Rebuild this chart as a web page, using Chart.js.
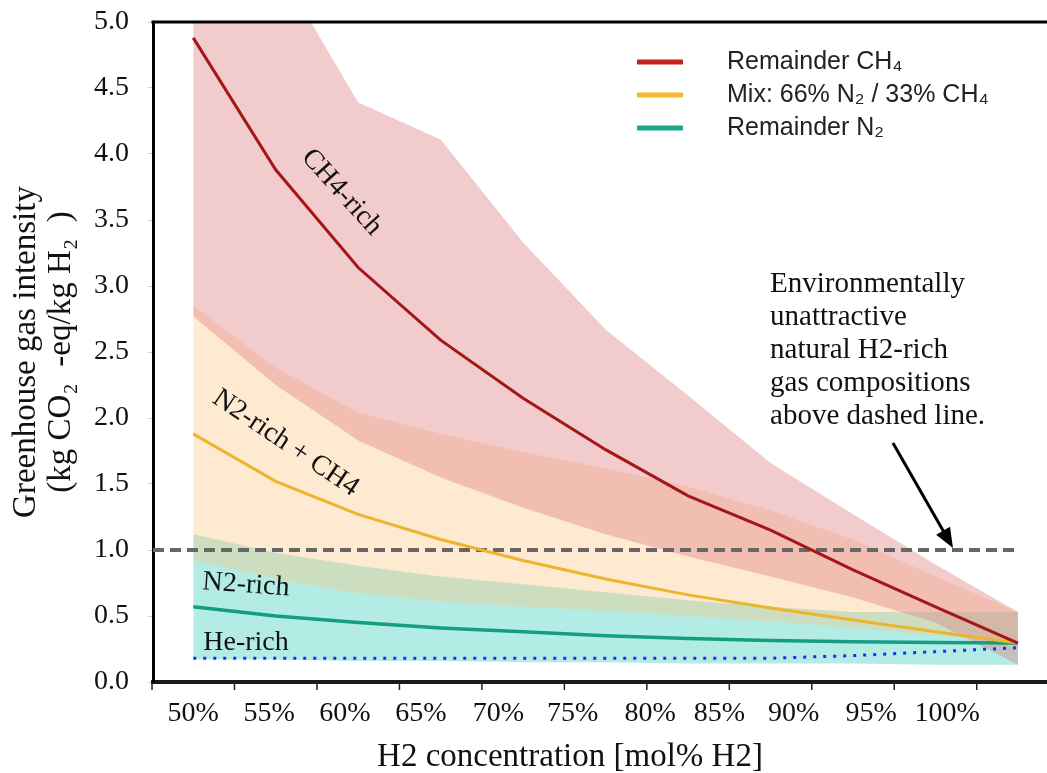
<!DOCTYPE html>
<html>
<head>
<meta charset="utf-8">
<script src="https://cdn.jsdelivr.net/npm/chart.js@4.4.1/dist/chart.umd.min.js"></script>
<style>
  html, body { margin: 0; padding: 0; background: #fff; }
</style>
</head>
<body>
<canvas id="chart" width="1047" height="773"></canvas>
<script>
// H2 concentration (mol%) of the modelled points
const h2Conc = [50, 55, 60, 65, 70, 75, 80, 85, 90, 95, 100];

// central curves, kg CO2-eq / kg H2
const remainderCH4 = [4.88, 3.88, 3.14, 2.59, 2.15, 1.76, 1.41, 1.15, 0.85, 0.57, 0.295];
const mixN2CH4 = [1.88, 1.52, 1.27, 1.08, 0.92, 0.78, 0.66, 0.56, 0.47, 0.38, 0.295];
const remainderN2 = [0.57, 0.50, 0.45, 0.41, 0.38, 0.35, 0.33, 0.315, 0.305, 0.30, 0.295];
const heRich = [0.18, 0.18, 0.18, 0.18, 0.18, 0.18, 0.18, 0.18, 0.20, 0.23, 0.26];

// shaded ranges
const ch4RichHigh = [6.3, 5.45, 4.39, 4.11, 3.33, 2.67, 2.17, 1.66, 1.27, 0.89, 0.53];
const ch4RichLow = [2.77, 2.25, 1.83, 1.55, 1.32, 1.12, 0.95, 0.80, 0.64, 0.45, 0.13];
const n2Ch4High = [2.85, 2.38, 2.04, 1.88, 1.74, 1.62, 1.48, 1.30, 1.08, 0.80, 0.53];
const n2Ch4Low = [0.92, 0.78, 0.67, 0.61, 0.57, 0.54, 0.50, 0.46, 0.41, 0.35, 0.30];
const n2RichHigh = [1.12, 0.98, 0.88, 0.80, 0.74, 0.68, 0.62, 0.57, 0.53, 0.53, 0.53];
const n2RichLow = [0.17, 0.17, 0.16, 0.16, 0.15, 0.15, 0.14, 0.14, 0.14, 0.13, 0.13];

// dashed limit
const threshold = 1.0;
const thresholdSpan = [47.56, 99.76];

// x axis: label texts, where they sit, and the small tick marks
const xTickLabels = ['50%', '55%', '60%', '65%', '70%', '75%', '80%', '85%', '90%', '95%', '100%'];
const xLabelAt = [50, 54.6, 59.2, 63.8, 68.5, 73.0, 77.7, 81.9, 86.4, 91.1, 95.7];
const xTickMarks = [47.5, 52.5, 57.5, 62.5, 67.5, 72.5, 77.5, 82.5, 87.5, 92.5, 97.5];

const SERIF = '"Liberation Serif", "Times New Roman", serif';
const SANS = '"Liberation Sans", Arial, sans-serif';

const pts = vals => h2Conc.map((x, i) => ({ x, y: vals[i] }));

function band(values, fill, color) {
    return {
        data: pts(values),
        borderWidth: 0,
        pointRadius: 0,
        fill: fill,
        backgroundColor: color,
        tension: 0,
        order: 2
    };
}

function curve(label, values, color, width, legendColor) {
    return {
        label,
        data: pts(values),
        borderColor: color,
        borderWidth: width,
        pointRadius: 0,
        fill: false,
        tension: 0,
        order: 1,
        legendColor
    };
}

const datasets = [
    curve('Remainder CH₄', remainderCH4, '#A3161A', 3, '#C4261F'),
    curve('Mix: 66% N₂ / 33% CH₄', mixN2CH4, '#EDB52F', 3, '#F4B731'),
    curve('Remainder N₂', remainderN2, '#139E84', 3.5, '#1AA88B'),
    {
        label: 'He-rich',
        data: pts(heRich),
        borderColor: '#1A2CFF',
        borderWidth: 3,
        borderDash: [3, 7],
        pointRadius: 0,
        fill: false,
        order: 1
    },
    {
        label: 'limit',
        data: thresholdSpan.map(x => ({ x, y: threshold })),
        borderColor: '#666666',
        borderWidth: 4,
        borderDash: [11, 6],
        pointRadius: 0,
        fill: false,
        order: 1
    },
    band(ch4RichHigh, '+1', 'rgba(223,125,130,0.40)'),
    band(ch4RichLow, false, 'transparent'),
    band(n2Ch4High, '+1', 'rgba(249,200,135,0.38)'),
    band(n2Ch4Low, false, 'transparent'),
    band(n2RichHigh, '+1', 'rgba(84,213,195,0.45)'),
    band(n2RichLow, false, 'transparent')
];

function rotatedText(ctx, text, px, py, deg) {
    ctx.save();
    ctx.translate(px, py);
    ctx.rotate(deg * Math.PI / 180);
    ctx.textAlign = 'center';
    ctx.textBaseline = 'middle';
    ctx.fillText(text, 0, 0);
    ctx.restore();
}

const decorations = {
    id: 'decorations',
    afterDraw(chart) {
        const { ctx, chartArea: a, scales: { x, y } } = chart;
        ctx.save();

        // top frame
        ctx.strokeStyle = '#000';
        ctx.lineWidth = 3;
        ctx.beginPath();
        ctx.moveTo(a.left - 1.5, a.top);
        ctx.lineTo(a.right, a.top);
        ctx.stroke();

        // tick marks under the x axis
        ctx.strokeStyle = '#222';
        ctx.lineWidth = 1.5;
        xTickMarks.forEach(v => {
            const p = x.getPixelForValue(v);
            ctx.beginPath();
            ctx.moveTo(p, a.bottom + 2);
            ctx.lineTo(p, a.bottom + 8);
            ctx.stroke();
        });

        // region labels
        ctx.fillStyle = '#111';
        ctx.font = '28px ' + SERIF;
        rotatedText(ctx, 'CH4-rich', x.getPixelForValue(59.0), y.getPixelForValue(3.71), 48);
        rotatedText(ctx, 'N2-rich + CH4', x.getPixelForValue(55.6), y.getPixelForValue(1.81), 34);
        rotatedText(ctx, 'N2-rich', x.getPixelForValue(53.2), y.getPixelForValue(0.735), 4);
        rotatedText(ctx, 'He-rich', x.getPixelForValue(53.2), y.getPixelForValue(0.295), 0);

        // note + arrow
        const note = ['Environmentally', 'unattractive', 'natural H2-rich', 'gas compositions', 'above dashed line.'];
        ctx.font = '29px ' + SERIF;
        ctx.textAlign = 'left';
        ctx.textBaseline = 'alphabetic';
        const nx = x.getPixelForValue(84.97);
        const ny = y.getPixelForValue(2.955);
        note.forEach((t, i) => ctx.fillText(t, nx, ny + i * 33));

        const x0 = x.getPixelForValue(92.42), y0 = y.getPixelForValue(1.81);
        const x1 = x.getPixelForValue(96.06), y1 = y.getPixelForValue(1.015);
        const ang = Math.atan2(y1 - y0, x1 - x0);
        ctx.strokeStyle = '#000';
        ctx.lineWidth = 3;
        ctx.beginPath();
        ctx.moveTo(x0, y0);
        ctx.lineTo(x1 - 14 * Math.cos(ang), y1 - 14 * Math.sin(ang));
        ctx.stroke();
        ctx.fillStyle = '#000';
        ctx.beginPath();
        ctx.moveTo(x1, y1);
        ctx.lineTo(x1 - 20 * Math.cos(ang) + 8 * Math.sin(ang), y1 - 20 * Math.sin(ang) - 8 * Math.cos(ang));
        ctx.lineTo(x1 - 20 * Math.cos(ang) - 8 * Math.sin(ang), y1 - 20 * Math.sin(ang) + 8 * Math.cos(ang));
        ctx.closePath();
        ctx.fill();

        // x axis title
        ctx.fillStyle = '#111';
        ctx.font = '33px ' + SERIF;
        ctx.textAlign = 'center';
        ctx.textBaseline = 'middle';
        ctx.fillText('H2 concentration [mol% H2]', 570, 757);

        // legend
        ctx.font = '25px ' + SANS;
        ctx.textAlign = 'left';
        let row = 0;
        chart.data.datasets.forEach(ds => {
            if (!ds.legendColor) return;
            const ly = 62 + row * 33;
            ctx.strokeStyle = ds.legendColor;
            ctx.lineWidth = 5;
            ctx.beginPath();
            ctx.moveTo(637, ly);
            ctx.lineTo(683, ly);
            ctx.stroke();
            ctx.fillStyle = '#222';
            ctx.fillText(ds.label, 727, ly);
            row++;
        });

        ctx.restore();
    }
};

new Chart(document.getElementById('chart'), {
    type: 'line',
    data: { datasets },
    plugins: [decorations],
    options: {
        responsive: false,
        animation: false,
        devicePixelRatio: 1,
        layout: { padding: { top: 22, right: 0, bottom: 0, left: 0 } },
        plugins: {
            legend: { display: false },
            tooltip: { enabled: false }
        },
        scales: {
            x: {
                type: 'linear',
                min: 47.56,
                max: 101.76,
                afterBuildTicks: s => { s.ticks = xLabelAt.map(v => ({ value: v })); },
                afterFit: s => { s.height = 91; s.paddingLeft = 0; s.paddingRight = 0; },
                ticks: {
                    autoSkip: false,
                    maxRotation: 0,
                    padding: 15,
                    color: '#111',
                    font: { family: SERIF, size: 28 },
                    callback: (v, i) => xTickLabels[i]
                },
                grid: { display: false, drawTicks: false },
                border: { display: true, color: '#1a1a1a', width: 4 }
            },
            y: {
                min: 0,
                max: 5,
                afterFit: s => { s.width = 153; s.paddingTop = 0; s.paddingBottom = 0; },
                ticks: {
                    stepSize: 0.5,
                    padding: 19,
                    color: '#111',
                    font: { family: SERIF, size: 28 },
                    callback: v => v.toFixed(1)
                },
                grid: { drawOnChartArea: false, drawTicks: true, tickLength: 5, color: '#d0d0d0' },
                border: { display: true, color: '#000', width: 3 },
                title: {
                    display: true,
                    text: ['Greenhouse gas intensity', '(kg CO₂  -eq/kg H₂  )'],
                    color: '#111',
                    font: { family: SERIF, size: 33, lineHeight: 1.06 },
                    padding: { top: 9, bottom: 0 }
                }
            }
        }
    }
});
</script>
</body>
</html>
